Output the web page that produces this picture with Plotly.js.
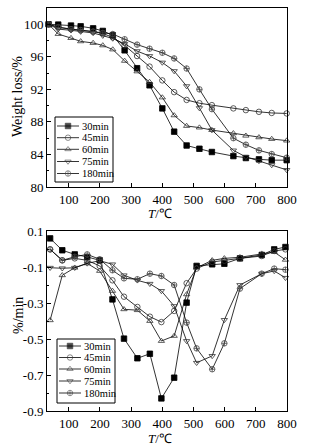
<!DOCTYPE html>
<html><head><meta charset="utf-8">
<script src="https://cdn.plot.ly/plotly-3.0.1.min.js"></script>
<style>html,body{margin:0;padding:0;background:#fff}#plot{width:315px;height:445px}</style>
</head><body><div id="plot"></div>
<script>
// Thermogravimetric (TG) curves
var tgTemp = [35, 66, 107, 138, 178, 209, 241, 279, 319, 359, 400, 438, 478, 519, 559, 628, 668, 710, 751, 799];
var tg30  = [100, 99.96, 99.84, 99.75, 99.5, 99.18, 98.65, 96.8, 94.6, 92.5, 89.66, 86.8, 85.1, 84.7, 84.3, 83.8, 83.56, 83.4, 83.3, 83.3];
var tg45  = [100, 99.67, 99.4, 99.26, 99.1, 98.86, 98.4, 97.4, 96.1, 94.8, 93.1, 91.66, 90.7, 90.3, 90.06, 89.66, 89.45, 89.24, 89.1, 89.04];
var tg60  = [100, 98.8, 98.3, 97.9, 97.7, 97.4, 96.9, 95.5, 94.2, 92.9, 91.0, 88.8, 87.5, 87.3, 87.0, 86.6, 86.3, 86.1, 85.9, 85.7];
var tg75  = [100, 99.4, 99.26, 99.1, 98.93, 98.6, 98.25, 97.6, 96.7, 96.1, 95.3, 94.25, 92.4, 89.7, 87.0, 84.5, 83.7, 83.2, 82.7, 82.1];
var tg180 = [100, 99.6, 99.4, 99.3, 99.1, 98.95, 98.8, 98.16, 97.5, 97.0, 96.5, 95.8, 94.56, 92.0, 89.57, 86.0, 85.2, 84.5, 84.05, 83.6];

// Derivative (DTG) curves
var dtgTemp = [40, 79, 119, 159, 199, 240, 277, 320, 360, 397, 438, 478, 510, 560, 599, 649, 719, 759, 795];
var dtg30  = [0.059, -0.007, -0.03, -0.044, -0.063, -0.28, -0.498, -0.607, -0.582, -0.83, -0.715, -0.298, -0.094, -0.085, -0.082, -0.052, -0.033, -0.002, 0.011];
var dtg45  = [-0.002, -0.063, -0.052, -0.063, -0.094, -0.174, -0.265, -0.322, -0.376, -0.406, -0.344, -0.19, -0.109, -0.072, -0.065, -0.052, -0.039, -0.011, -0.002];
var dtg60  = [-0.396, -0.146, -0.104, -0.08, -0.122, -0.233, -0.335, -0.34, -0.4, -0.511, -0.483, -0.252, -0.104, -0.063, -0.052, -0.046, -0.026, -0.017, -0.06];
var dtg75  = [-0.104, -0.107, -0.104, -0.08, -0.065, -0.085, -0.146, -0.174, -0.193, -0.233, -0.317, -0.511, -0.632, -0.594, -0.394, -0.2, -0.137, -0.122, -0.16];
var dtg180 = [-0.002, -0.063, -0.043, -0.03, -0.057, -0.118, -0.163, -0.168, -0.137, -0.15, -0.2, -0.409, -0.552, -0.668, -0.524, -0.22, -0.137, -0.109, -0.115];

var names = ['30min', '45min', '60min', '75min', '180min'];
var tgSeries = [tg30, tg45, tg60, tg75, tg180];
var dtgSeries = [dtg30, dtg45, dtg60, dtg75, dtg180];
var symbols = ['square', 'circle-open', 'triangle-up-open', 'triangle-down-open', 'circle-cross-open'];
var mcolors = ['#000', '#333', '#333', '#333', '#444'];

var serif = 'Liberation Serif, Times New Roman, serif';
var font = {family: serif, size: 13, color: '#000'};

function mk(i) { return {symbol: symbols[i], size: 5.5, color: mcolors[i], line: {width: 0.8, color: mcolors[i]}}; }

var traces = [];
for (var i = 0; i < 5; i++) {
  traces.push({x: tgTemp, y: tgSeries[i], name: names[i], xaxis: 'x', yaxis: 'y', showlegend: false,
    mode: 'lines+markers', line: {color: '#000', width: 0.8}, marker: mk(i), cliponaxis: false});
}
for (var j = 0; j < 5; j++) {
  traces.push({x: dtgTemp, y: dtgSeries[j], name: names[j], xaxis: 'x2', yaxis: 'y2', showlegend: false,
    mode: 'lines+markers', line: {color: '#000', width: 0.8}, marker: mk(j), cliponaxis: false});
}

// Plot area in page pixels: x 47..287, y 8..411
var PX0 = 47, PX1 = 287, PY0 = 8, PY1 = 411;

// Custom compact legends drawn on an overlay axis measured in page pixels
var shapes = [], annotations = [];
function addLegend(box, x0, x1, xm, xt, rows) {
  shapes.push({type: 'rect', xref: 'x3', yref: 'y3', x0: box[0], y0: box[1], x1: box[2], y1: box[3],
    line: {color: '#000', width: 1}, fillcolor: '#fff', layer: 'below'});
  for (var k = 0; k < 5; k++) {
    var m = mk(k); m.size = [0, 5.5, 0];
    traces.push({x: [x0, xm, x1], y: [rows[k], rows[k], rows[k]], xaxis: 'x3', yaxis: 'y3', showlegend: false,
      mode: 'lines+markers', line: {color: '#000', width: 0.8}, marker: m, cliponaxis: false, hoverinfo: 'skip'});
    annotations.push({xref: 'x3', yref: 'y3', x: xt, y: rows[k], text: names[k], showarrow: false,
      xanchor: 'left', yanchor: 'middle', font: {family: serif, size: 10.5, color: '#000'}});
  }
}
addLegend([55, 117, 113, 182], 57, 79, 68, 80, [126, 137.7, 149.3, 161.5, 173.5]);
addLegend([57, 339, 115, 403], 59, 81, 70, 82, [346, 357.5, 369, 381, 393]);

// axis titles placed in page pixels (converted to paper fractions)
function px(x) { return (x - PX0) / (PX1 - PX0); }
function py(y) { return (PY1 - y) / (PY1 - PY0); }
function title(text, x, y, angle, size) {
  annotations.push({xref: 'paper', yref: 'paper', x: px(x), y: py(y), text: text, textangle: angle, showarrow: false,
    xanchor: 'center', yanchor: 'middle', font: {family: serif, size: size, color: '#000'}});
}
title('Weight loss/%', 18, 97, -90, 14);
title('%/min', 18, 316, -90, 14);
title('<i>T</i>/℃', 160, 214, 0, 13);
title('<i>T</i>/℃', 160, 438, 0, 13);

var axBase = {showline: true, mirror: true, linecolor: '#000', linewidth: 1, ticks: 'inside', ticklen: 4,
  tickcolor: '#000', showgrid: false, zeroline: false, tickfont: font};
function ax(extra) { var o = {}; for (var k in axBase) o[k] = axBase[k]; for (var k2 in extra) o[k2] = extra[k2]; return o; }

var xTicks = [100, 200, 300, 400, 500, 600, 700, 800];

var layout = {
  width: 315, height: 445, paper_bgcolor: '#fff', plot_bgcolor: 'rgba(0,0,0,0)',
  margin: {l: PX0, r: 315 - PX1, t: PY0, b: 445 - PY1},
  font: font, showlegend: false,
  xaxis: ax({anchor: 'y', domain: [0, 1], range: [30, 800], tickvals: xTicks}),
  yaxis: ax({anchor: 'x', domain: [py(187), 1], range: [80, 102], tickvals: [80, 84, 88, 92, 96, 100],
    minor: {tickvals: [82, 86, 90, 94, 98], ticks: 'inside', ticklen: 2, tickcolor: '#000'}}),
  xaxis2: ax({anchor: 'y2', domain: [0, 1], range: [30, 800], tickvals: xTicks}),
  yaxis2: ax({anchor: 'x2', domain: [0, py(231)], range: [-0.9, 0.1],
    tickvals: [-0.9, -0.7, -0.5, -0.3, -0.1, 0.1], ticktext: ['-0.9', '-0.7', '-0.5', '-0.3', '-0.1', '0.1'],
    minor: {tickvals: [-0.8, -0.6, -0.4, -0.2, 0], ticks: 'inside', ticklen: 2, tickcolor: '#000'}}),
  xaxis3: {domain: [0, 1], range: [PX0, PX1], visible: false, anchor: 'y3', fixedrange: true},
  yaxis3: {domain: [0, 1], range: [PY1, PY0], visible: false, anchor: 'x3', fixedrange: true},
  shapes: shapes, annotations: annotations
};

Plotly.newPlot('plot', traces, layout, {displayModeBar: false, staticPlot: true});
</script></body></html>
